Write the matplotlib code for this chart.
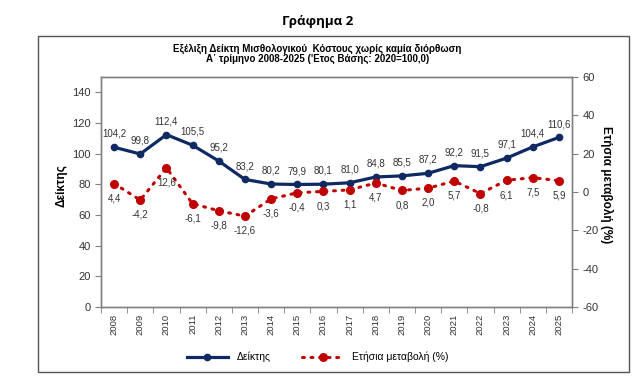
import matplotlib.pyplot as plt
import numpy as np
from matplotlib.patches import Rectangle

# Δεδομένα
etos = [str(e) for e in range(2008, 2026)]
deiktis = [104.2, 99.8, 112.4, 105.5, 95.2, 83.2, 80.2, 79.9, 80.1, 81.0,
           84.8, 85.5, 87.2, 92.2, 91.5, 97.1, 104.4, 110.6]
metavoli = [4.4, -4.2, 12.6, -6.1, -9.8, -12.6, -3.6, -0.4, 0.3, 1.1,
            4.7, 0.8, 2.0, 5.7, -0.8, 6.1, 7.5, 5.9]

plt.rcParams['font.family'] = ['Liberation Sans', 'DejaVu Sans']
plt.rcParams['axes.unicode_minus'] = False
mple = '#0F2A63'
kokkino = '#C00000'
gkri = '#808080'
keimeno = '#333333'

fig = plt.figure(figsize=(6.35, 3.79), dpi=100)
ax = fig.add_axes([101/635, 1 - 307/379, 471/635, 230/379])
ax2 = ax.twinx()

x = np.arange(len(etos))

ax.plot(x, deiktis, color=mple, lw=2.3, marker='o', ms=4.5, label='Δείκτης', zorder=3)
ax2.plot(x, metavoli, color=kokkino, lw=2.2, ls=(0, (0.6, 2.2)), dash_capstyle='round',
         marker='o', ms=5.5, label='Ετήσια μεταβολή (%)', zorder=3)

for xi, v in zip(x, deiktis):
    ax.annotate(f'{v:.1f}'.replace('.', ','), (xi, v), xytext=(0, 6), textcoords='offset points',
                ha='center', va='bottom', fontsize=7, color=keimeno)
for xi, v in zip(x, metavoli):
    ax2.annotate(f'{v:.1f}'.replace('.', ','), (xi, v), xytext=(0, -7), textcoords='offset points',
                 ha='center', va='top', fontsize=7, color=keimeno)

ax.set_xlim(-0.5, len(etos) - 0.5)
ax.set_ylim(0, 150)
ax.set_yticks(range(0, 141, 20))
ax2.set_ylim(-60, 60)
ax2.set_yticks(range(-60, 61, 20))

ax.set_xticks(x)
ax.set_xticklabels(etos, rotation=90, fontsize=6.8, color=keimeno)
ax.set_xticks(np.arange(-0.5, len(etos), 1), minor=True)
ax.tick_params(axis='x', which='major', length=0, pad=5)
ax.tick_params(axis='x', which='minor', length=4, color=gkri)
ax.tick_params(axis='y', labelsize=8, length=4, color=gkri, labelcolor=keimeno)
ax2.tick_params(axis='y', labelsize=8, length=4, color=gkri, labelcolor=keimeno)

for a in (ax, ax2):
    for s in a.spines.values():
        s.set_color(gkri)
        s.set_linewidth(1)

ax.set_ylabel('Δείκτης', fontsize=8.5, fontweight='bold', va='center')
ax.yaxis.set_label_coords(-40/471, 0.53)
ax2.set_ylabel('Ετήσια μεταβολή (%)', fontsize=8.5, fontweight='bold', rotation=-90,
               va='center')
ax2.yaxis.set_label_coords(1 + 35/471, 0.53)

fig.text(0.5, 1 - 22/379, 'Γράφημα 2', ha='center', va='center', fontsize=9.5,
         fontweight='bold', family=['Open Sans', 'DejaVu Sans'])
fig.text(0.5, 1 - 49/379, 'Εξέλιξη Δείκτη Μισθολογικού  Κόστους χωρίς καμία διόρθωση',
         ha='center', va='center', fontsize=7, fontweight='bold')
fig.text(0.5, 1 - 59/379, 'Α΄ τρίμηνο 2008-2025 (\'Ετος Βάσης: 2020=100,0)',
         ha='center', va='center', fontsize=7, fontweight='bold')

fig.patches.append(Rectangle((38/635, 1 - 372/379), 591/635, 336/379, transform=fig.transFigure,
                             fill=False, edgecolor='#555555', lw=1))

h1, l1 = ax.get_legend_handles_labels()
h2, l2 = ax2.get_legend_handles_labels()
fig.legend(h1 + h2, l1 + l2, loc='center', bbox_to_anchor=(0.5, 1 - 357/379), ncol=2,
           frameon=False, fontsize=7.5, handlelength=4, columnspacing=3)

fig.savefig('out.png', dpi=100)
